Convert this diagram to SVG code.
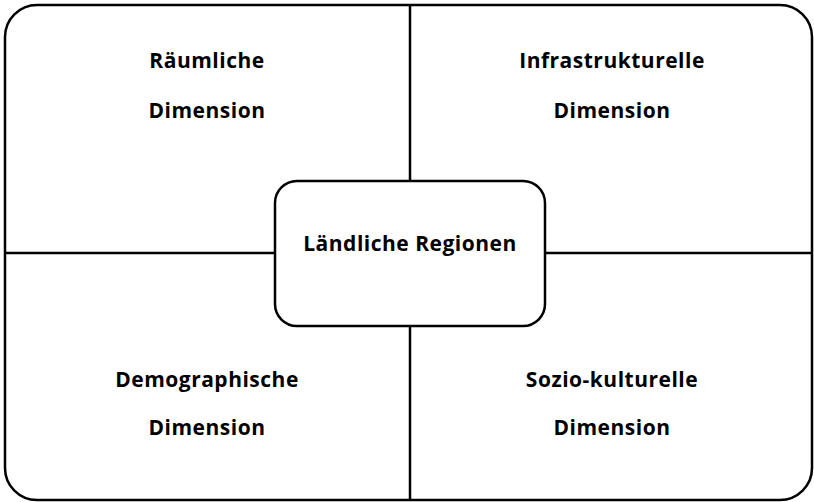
<svg xmlns="http://www.w3.org/2000/svg" width="814" height="502" viewBox="0 0 814 502">
<style>
.ln{stroke:#000;stroke-width:2.5;fill:none}
.box{stroke:#000;stroke-width:2.5;fill:#fff}
.t{font-family:"Open Sans","Liberation Sans",sans-serif;font-weight:bold;font-size:21px;letter-spacing:0.5px;fill:#000;text-anchor:middle}
</style>
<rect width="814" height="502" fill="#fff"/>
<g id="frame"><rect class="ln" x="5" y="5" width="807" height="495" rx="32" ry="32"/></g>
<g id="connectors">
<line class="ln" x1="410" y1="5" x2="410" y2="181"/>
<line class="ln" x1="410" y1="326" x2="410" y2="500"/>
<line class="ln" x1="5" y1="253" x2="275" y2="253"/>
<line class="ln" x1="545" y1="253" x2="812" y2="253"/>
</g>
<g id="raeumlich"><text class="t" x="207" y="68">Räumliche</text><text class="t" x="207" y="118">Dimension</text></g>
<g id="infrastrukturell"><text class="t" x="612" y="68">Infrastrukturelle</text><text class="t" x="612" y="118">Dimension</text></g>
<g id="demographisch"><text class="t" x="207" y="387">Demographische</text><text class="t" x="207" y="435">Dimension</text></g>
<g id="soziokulturell"><text class="t" x="612" y="387">Sozio-kulturelle</text><text class="t" x="612" y="435">Dimension</text></g>
<g id="center"><rect class="box" x="275" y="181" width="270" height="145" rx="22" ry="22"/><text class="t" x="410" y="251">Ländliche Regionen</text></g>
</svg>
